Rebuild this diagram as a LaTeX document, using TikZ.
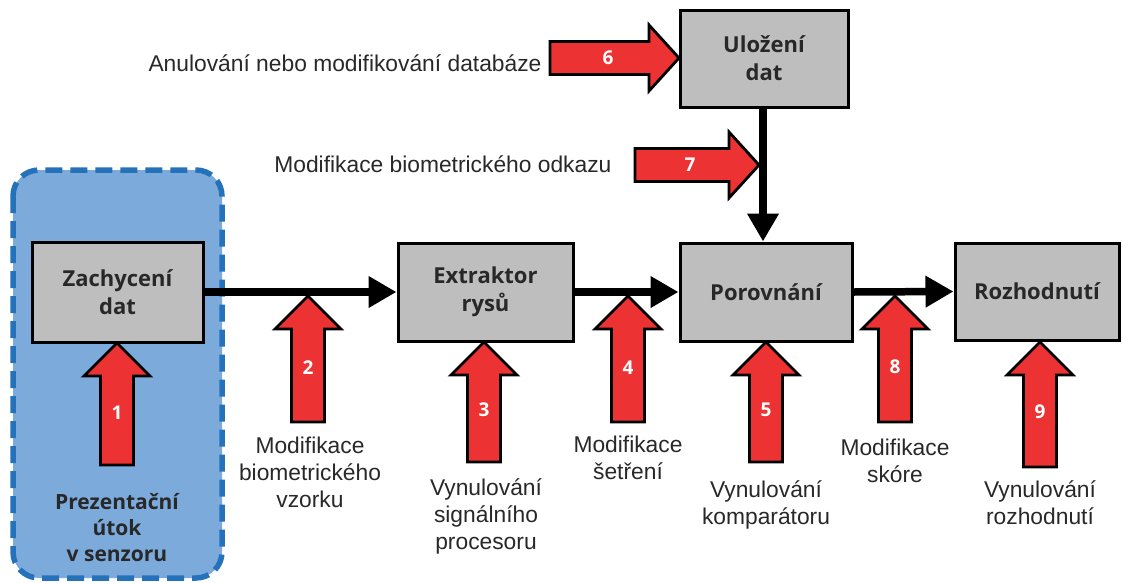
\documentclass[tikz,border=0pt]{standalone}
\usepackage{fontspec}
\setmainfont{Liberation Sans}
\newfontfamily\boxfont{Open Sans}
\usetikzlibrary{arrows.meta}
\definecolor{boxgray}{RGB}{190,190,190}
\definecolor{atkred}{RGB}{236,50,50}
\definecolor{zonefill}{RGB}{124,170,219}
\definecolor{zoneline}{RGB}{38,114,186}
\definecolor{txtgray}{RGB}{40,40,40}
\tikzset{
  blk/.style={draw=black, line width=3pt, fill=boxgray, align=center,
    font=\boxfont\bfseries\fontsize{22}{28}\selectfont, text=txtgray},
  atk/.style={draw=black, line width=2.8pt, fill=atkred, line join=miter},
  num/.style={text=white, font=\boxfont\bfseries\fontsize{19}{22}\selectfont},
  lbl/.style={align=center, text=txtgray, font=\fontsize{22.8}{27}\selectfont},
  flow/.style={line width=7.5pt, -{Triangle[length=28pt,width=30pt]}},
}
\newcommand\atkUp[6]{%
  \draw[atk] (#2,#3) -- ++(33,33) -- ++(-16.5,0) -- (#2+16.5,#4) -- (#2-16.5,#4)
    -- (#2-16.5,#3+33) -- ++(-16.5,0) -- cycle;
  \node[num] (#1) at (#2,#5) {#6};}
\newcommand\atkRight[6]{%
  \draw[atk] (#2,#3) -- ++(-30,-33) -- ++(0,16.5) -- (#4,#3-16.5) -- (#4,#3+16.5)
    -- (#2-30,#3+16.5) -- ++(0,16.5) -- cycle;
  \node[num] (#1) at (#5,#3) {#6};}
\begin{document}
\begin{tikzpicture}[x=1pt,y=-1pt]
\useasboundingbox (0,0) rectangle (1122,582);
% sensor zone
\draw[draw=zoneline, fill=zonefill, line width=5.5pt, dash pattern=on 17pt off 8pt,
  rounded corners=26pt] (13,170) rectangle (222,578);
% boxes
\node[blk, minimum width=171pt, minimum height=100pt] (zach) at (117.5,292) {Zachycení\\dat};
\node[blk, minimum width=175pt, minimum height=98pt] (extr) at (485.5,292) {Extraktor\\rysů};
\node[blk, minimum width=172pt, minimum height=98pt] (por) at (766,292) {Porovnání};
\node[blk, minimum width=168pt, minimum height=97pt] (ulo) at (764,58.5) {Uložení\\dat};
\node[blk, minimum width=164pt, minimum height=97pt] (roz) at (1037,291.5) {Rozhodnutí};
% flow connectors
\draw[flow] (zach.east) -- (extr.west);
\draw[flow] (extr.east) -- (por.west);
\draw[flow] (por.east) -- (roz.west);
\draw[flow] (ulo.south -| 763,0) -- (por.north -| 763,0);
% attack arrows
\atkUp{a1}{117}{343}{465}{413}{1}
\atkUp{a2}{308}{296}{422}{368}{2}
\atkUp{a3}{484}{342}{462}{410}{3}
\atkUp{a4}{628}{296}{422}{368}{4}
\atkUp{a5}{766}{342}{462}{410}{5}
\atkUp{a8}{895}{296}{422}{367}{8}
\atkUp{a9}{1040}{342}{467}{412}{9}
\atkRight{a6}{679}{58}{550}{608}{6}
\atkRight{a7}{759}{165}{635}{690}{7}
% labels
\node[lbl, font=\boxfont\bfseries\fontsize{21}{26}\selectfont] (t1) at (117,528) {Prezentační\\útok\\v senzoru};
\node[lbl] (t2) at (310,472) {Modifikace\\biometrického\\vzorku};
\node[lbl] (t3) at (486,516) {Vynulování\\signálního\\procesoru};
\node[lbl] (t4) at (628,458) {Modifikace\\šetření};
\node[lbl] (t5) at (766,505) {Vynulování\\komparátoru};
\node[lbl] (t8) at (895,461) {Modifikace\\skóre};
\node[lbl] (t9) at (1040,503) {Vynulování\\rozhodnutí};
\node[lbl, anchor=east] (t6) at (545,63) {Anulování nebo modifikování databáze};
\node[lbl, anchor=east] (t7) at (615,164) {Modifikace biometrického odkazu};
\end{tikzpicture}
\end{document}
